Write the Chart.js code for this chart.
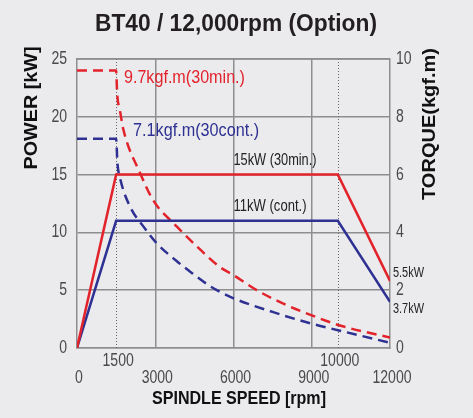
<!DOCTYPE html>
<html>
<head>
    <title>BT40 / 12,000rpm (Option)</title>
    <script src="https://cdn.jsdelivr.net/npm/chart.js"></script>
    <style>
        html, body { margin: 0; padding: 0; background: #ebebee; }
        #wrap { width: 473px; height: 418px; }
    </style>
</head>
<body>
    <div id="wrap"><canvas id="spindleChart" width="473" height="418"></canvas></div>
    <script>
        // spindle speed [rpm]
        const speedTicks = [0, 1500, 3000, 6000, 9000, 10000, 12000];
        const raisedTicks = [1500, 10000];
        const powerTicks = [0, 5, 10, 15, 20, 25];
        const torqueTicks = [0, 2, 4, 6, 8, 10];

        // power curves [kW]
        const powerSpeed = [0, 1500, 10000, 12000];
        const power30min = [0, 15, 15, 5.8];
        const powerCont = [0, 11, 11, 4.0];

        // torque curves [kgf.m]
        const torque30minSpeed = [0, 1500, 1540, 1650, 1780, 2420, 2930, 3830, 4590, 5480, 6000, 6890, 8000, 9000, 10080, 12000];
        const torque30min = [9.6, 9.6, 8.8, 8.2, 7.55, 6.05, 5.1, 4.2, 3.52, 2.8, 2.52, 2.0, 1.5, 1.13, 0.78, 0.36];
        const torqueContSpeed = [0, 1500, 1550, 1660, 2040, 2550, 3060, 3830, 4340, 5000, 5360, 6000, 7525, 9000, 10080, 12000];
        const torqueCont = [7.24, 7.24, 6.4, 5.84, 4.88, 4.2, 3.62, 3.0, 2.64, 2.2, 2.0, 1.72, 1.24, 0.84, 0.6, 0.18];

        const RED = '#e3232c';
        const BLUE = '#2e3192';
        const GRID = '#8e8e8e';
        const FONT = '"Liberation Sans", Arial, sans-serif';

        const pts = (xs, ys) => xs.map((x, i) => ({ x: x, y: ys[i] }));

        // draw text, squeezed or stretched to a given width when asked
        function text(ctx, str, x, y, o) {
            ctx.save();
            ctx.font = o.font;
            ctx.fillStyle = o.color || '#222';
            ctx.textBaseline = o.baseline || 'middle';
            ctx.textAlign = 'left';
            const w = ctx.measureText(str).width;
            const sx = o.width ? o.width / w : (o.sx || 1);
            ctx.translate(x, y);
            if (o.rot) ctx.rotate(o.rot);
            ctx.scale(sx, 1);
            let dx = 0;
            if (o.align === 'center') dx = -w / 2;
            if (o.align === 'right') dx = -w;
            ctx.fillText(str, dx, 0);
            ctx.restore();
        }

        const decor = {
            id: 'decor',
            beforeDraw(chart) {
                const ctx = chart.ctx;
                ctx.save();
                ctx.fillStyle = '#ebebee';
                ctx.fillRect(0, 0, chart.width, chart.height);
                ctx.restore();
            },
            beforeDatasetsDraw(chart) {
                const ctx = chart.ctx;
                const x = chart.scales.x, a = chart.chartArea;
                ctx.save();
                ctx.strokeStyle = '#666';
                ctx.lineWidth = 1;
                ctx.setLineDash([1, 2]);
                raisedTicks.forEach(v => {
                    const px = Math.round(x.getPixelForValue(v)) + 0.5;
                    ctx.beginPath();
                    ctx.moveTo(px, a.top);
                    ctx.lineTo(px, a.bottom);
                    ctx.stroke();
                });
                ctx.setLineDash([]);
                ctx.strokeStyle = GRID;
                ctx.lineWidth = 1.5;
                ctx.beginPath();
                ctx.moveTo(a.left, a.top);
                ctx.lineTo(a.right, a.top);
                ctx.stroke();
                ctx.restore();
            },
            afterDraw(chart) {
                const ctx = chart.ctx;
                const x = chart.scales.x, y = chart.scales.y, y1 = chart.scales.y1;
                const a = chart.chartArea;
                const tickFont = '18px ' + FONT;

                text(ctx, 'BT40 / 12,000rpm (Option)', 236, 31,
                    { font: 'bold 23px ' + FONT, width: 282, align: 'center', baseline: 'alphabetic', color: '#231f20' });

                powerTicks.forEach(v => text(ctx, String(v), a.left - 10, y.getPixelForValue(v),
                    { font: tickFont, sx: 0.78, align: 'right', color: '#4a4a4a' }));
                torqueTicks.forEach(v => text(ctx, String(v), a.right + 6, y1.getPixelForValue(v),
                    { font: tickFont, sx: 0.78, color: '#4a4a4a' }));
                speedTicks.forEach(v => {
                    const raised = raisedTicks.includes(v);
                    text(ctx, String(v), x.getPixelForValue(v) + 2, raised ? a.bottom + 13 : a.bottom + 30,
                        { font: tickFont, sx: 0.78, align: 'center', color: '#4a4a4a' });
                });

                text(ctx, 'POWER [kW]', 32, 108, { font: 'bold 19px ' + FONT, width: 123, align: 'center', rot: -Math.PI / 2, color: '#111' });
                text(ctx, 'TORQUE(kgf.m)', 430, 124, { font: 'bold 18px ' + FONT, width: 152, align: 'center', rot: -Math.PI / 2, color: '#111' });
                text(ctx, 'SPINDLE SPEED [rpm]', 239, 404, { font: 'bold 19px ' + FONT, width: 174, align: 'center', baseline: 'alphabetic', color: '#111' });

                text(ctx, '9.7kgf.m(30min.)', x.getPixelForValue(1800), y.getPixelForValue(23.4),
                    { font: '19px ' + FONT, width: 121, color: RED });
                text(ctx, '7.1kgf.m(30cont.)', x.getPixelForValue(2150), y.getPixelForValue(18.8),
                    { font: '19px ' + FONT, width: 126, color: BLUE });
                text(ctx, '15kW (30min.)', x.getPixelForValue(6000), y.getPixelForValue(16.2),
                    { font: '17px ' + FONT, width: 83, color: '#222' });
                text(ctx, '11kW (cont.)', x.getPixelForValue(6000), y.getPixelForValue(12.25),
                    { font: '17px ' + FONT, width: 73, color: '#222' });
                text(ctx, '5.5kW', a.right + 3, y.getPixelForValue(6.5),
                    { font: '15px ' + FONT, width: 31, color: '#222' });
                text(ctx, '3.7kW', a.right + 3, y.getPixelForValue(3.4),
                    { font: '15px ' + FONT, width: 31, color: '#222' });
            }
        };

        const ctx = document.getElementById('spindleChart').getContext('2d');
        const spindleChart = new Chart(ctx, {
            type: 'line',
            data: {
                datasets: [{
                    label: '15kW (30min.)',
                    data: pts(powerSpeed, power30min),
                    borderColor: RED,
                    borderWidth: 2.5,
                    yAxisID: 'y',
                }, {
                    label: '11kW (cont.)',
                    data: pts(powerSpeed, powerCont),
                    borderColor: BLUE,
                    borderWidth: 2.5,
                    yAxisID: 'y',
                }, {
                    label: '9.7kgf.m(30min.)',
                    data: pts(torque30minSpeed, torque30min),
                    borderColor: RED,
                    borderWidth: 2.5,
                    borderDash: [10, 6],
                    cubicInterpolationMode: 'monotone',
                    yAxisID: 'y1',
                }, {
                    label: '7.1kgf.m(30cont.)',
                    data: pts(torqueContSpeed, torqueCont),
                    borderColor: BLUE,
                    borderWidth: 2.5,
                    borderDash: [10, 6],
                    cubicInterpolationMode: 'monotone',
                    yAxisID: 'y1',
                }]
            },
            options: {
                responsive: false,
                animation: false,
                devicePixelRatio: 1,
                layout: { padding: { left: 77, top: 59, right: 83, bottom: 70 } },
                elements: { point: { radius: 0 }, line: { tension: 0, fill: false } },
                plugins: { legend: { display: false }, tooltip: { enabled: false } },
                scales: {
                    x: {
                        type: 'linear',
                        min: 0,
                        max: 12000,
                        afterBuildTicks: s => { s.ticks = speedTicks.map(v => ({ value: v })); },
                        ticks: { display: false },
                        grid: {
                            drawTicks: false,
                            lineWidth: 1.5,
                            color: c => (raisedTicks.includes(c.tick.value) || c.tick.value === 0 || c.tick.value === 12000) ? 'rgba(0,0,0,0)' : GRID
                        },
                        border: { color: GRID, width: 1.5 }
                    },
                    y: {
                        position: 'left',
                        min: 0,
                        max: 25,
                        afterBuildTicks: s => { s.ticks = powerTicks.map(v => ({ value: v })); },
                        ticks: { display: false },
                        grid: { drawTicks: false, lineWidth: 1.5, color: GRID },
                        border: { color: GRID, width: 1.5 }
                    },
                    y1: {
                        position: 'right',
                        min: 0,
                        max: 10,
                        afterBuildTicks: s => { s.ticks = torqueTicks.map(v => ({ value: v })); },
                        ticks: { display: false },
                        grid: { drawTicks: false, drawOnChartArea: false },
                        border: { color: GRID, width: 1.5 }
                    }
                }
            },
            plugins: [decor]
        });
    </script>
</body>
</html>
